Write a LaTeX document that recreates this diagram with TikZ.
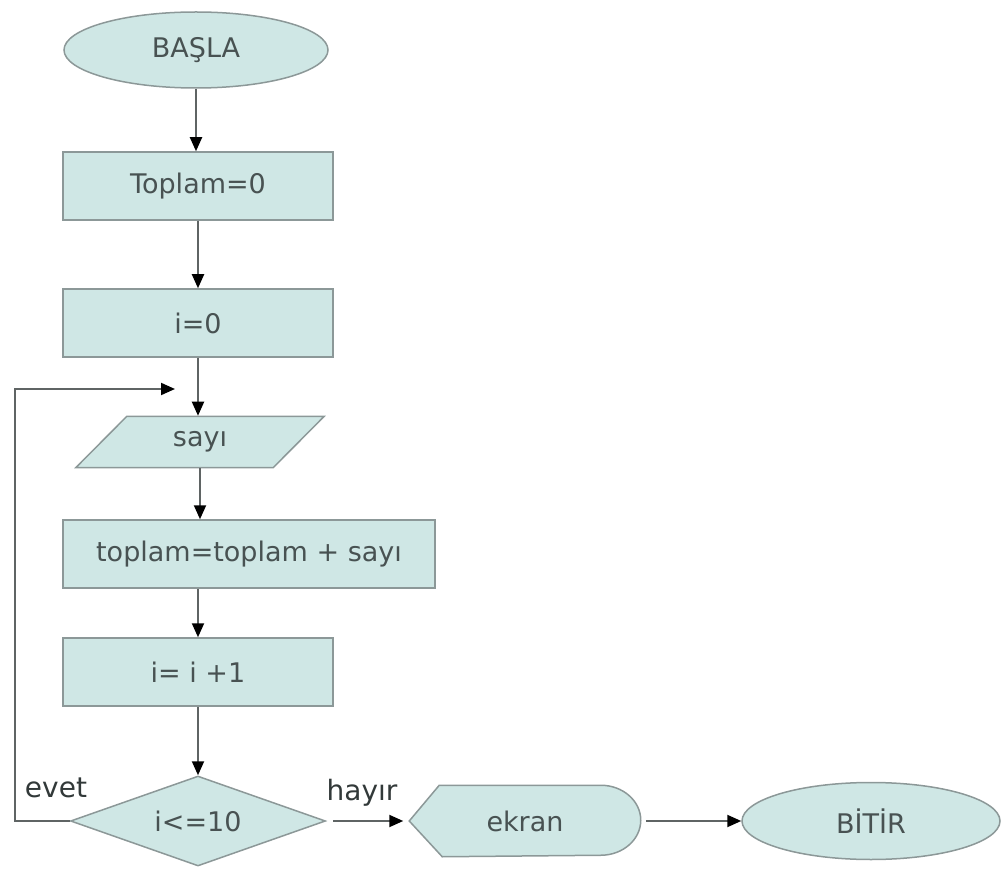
\documentclass[tikz,border=0pt]{standalone}
\usepackage{fontspec}
\setmainfont{DejaVu Sans}
\usetikzlibrary{shapes.geometric}
\usetikzlibrary{arrows.meta}
\usetikzlibrary{calc}
\usetikzlibrary{backgrounds}
\definecolor{kutu}{RGB}{207,231,229}
\definecolor{cerceve}{RGB}{140,152,152}
\definecolor{yazi}{RGB}{72,82,82}
\definecolor{okrenk}{RGB}{95,100,100}

\begin{document}
\begin{tikzpicture}[x=1pt, y=1pt,
    blok/.style={draw=cerceve, line width=1.5pt, fill=kutu, text=yazi, font=\fontsize{27}{30}\selectfont, inner sep=0pt},
    islem/.style={blok, rectangle, minimum width=270pt, minimum height=68pt},
    uc/.style={blok, ellipse, minimum width=264pt, minimum height=76pt},
    girdi/.style={blok, trapezium, trapezium left angle=48, trapezium right angle=132, trapezium stretches=true, minimum width=249pt, minimum height=51pt},
    karar/.style={blok, diamond, aspect=2.8, minimum width=255pt, minimum height=90pt},
    akis/.style={draw=okrenk, line width=2pt, -{Triangle[length=14pt, width=12pt, color=black]}},
    etiket/.style={text=yazi!70!black, font=\fontsize{28}{30}\selectfont}
]
            \useasboundingbox (0,0) rectangle (1002,-877);

            % Start and the two assignments
            \node[uc] (basla) at (196,-50) {BAŞLA};
            \node[islem] (toplamsifir) at (198,-186) {Toplam=0};
            \node[islem] (isifir) at (198,-323) {i=0};

            % Input and sum
            \node[girdi] (sayi) at (200,-442) {sayı};
            \node[islem, minimum width=372pt] (toplama) at (249,-554) {toplam=toplam + sayı};
            \node[islem] (artir) at (198,-672) {i= i +1};

            % Decision
            \node[karar] (kosul) at (198,-821) {i<=10};

            % Output and end
            \node[blok, draw=none, fill=none, minimum width=230pt, minimum height=70pt] (ekran) at (525,-821) {ekran};
            \begin{scope}[on background layer]
                \draw[blok] (ekran.west) -- ($(ekran.north west)+(30,0)$) -- ($(ekran.north east)+(-40,0)$)
                    arc[start angle=90, end angle=-90, x radius=40, y radius=35]
                    -- ($(ekran.south west)+(33,0)$) -- cycle;
            \end{scope}
            \node[uc, minimum width=258pt, minimum height=77pt] (bitir) at (871,-821) {BİTİR};

            % Main flow
            \draw[akis] (basla.south) -- (basla.south |- toplamsifir.north);
            \draw[akis] (toplamsifir.south) -- (isifir.north);
            \draw[akis] (isifir.south) -- (isifir.south |- sayi.north);
            \draw[akis] (sayi.south) -- (sayi.south |- toplama.north);
            \draw[akis] (artir.north |- toplama.south) -- (artir.north);
            \draw[akis] (artir.south) -- (kosul.north);

            % Loop back
            \coordinate (giris) at (175,-389);
            \draw[akis] (kosul.west) -- ++(-55,0) |- (giris);
            \node[etiket] (evet) at (56,-788) {evet};

            % Exit
            \draw[akis, shorten <=7pt, shorten >=6pt] (kosul.east) -- (ekran.west);
            \node[etiket] (hayir) at (362,-793) {hayır};
            \draw[akis, shorten <=5pt] (ekran.east) -- (bitir.west);

\end{tikzpicture}
\end{document}
